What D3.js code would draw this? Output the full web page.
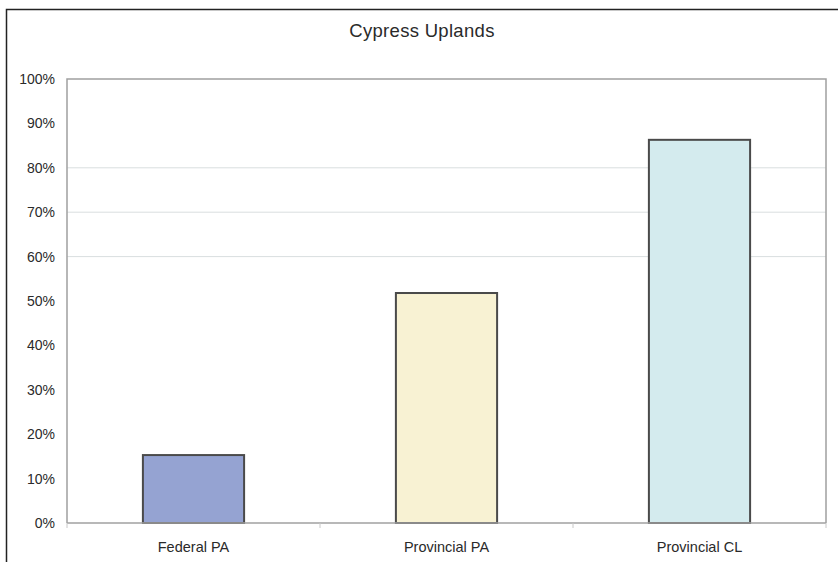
<!DOCTYPE html>
<html lang="en">
<head>
    <meta charset="utf-8">
    <title>Cypress Uplands</title>
    <script type="text/javascript" src="https://cdnjs.cloudflare.com/ajax/libs/d3/7.8.5/d3.min.js"></script>
    <style>
        body { margin: 0; background: #fff; }
        text { font-family: "Liberation Sans", Arial, sans-serif; fill: #2a2a2a; }
    </style>
</head>
<body>
    <script type="text/javascript">
    //chart data
    var categories = ["Federal PA", "Provincial PA", "Provincial CL"];
    var values = [0.153, 0.518, 0.863];
    var barColors = ["#95a3d2", "#f8f2d3", "#d4ebee"];
    var yTicks = [0, 0.1, 0.2, 0.3, 0.4, 0.5, 0.6, 0.7, 0.8, 0.9, 1.0];
    var gridValues = [0.6, 0.7, 0.8];
    var title = "Cypress Uplands";

    //initialize the dimensions
    var width = 838, height = 562,
        margin = {top: 79, right: 12, bottom: 39, left: 67},
        plotW = width - margin.left - margin.right,
        plotH = height - margin.top - margin.bottom;

    var svg = d3.select("body")
                .append("svg")
                .attr("width", width)
                .attr("height", height);

    //outer frame
    svg.append("rect")
       .attr("x", 6.5)
       .attr("y", 9.5)
       .attr("width", width)
       .attr("height", height)
       .attr("fill", "none")
       .attr("stroke", "#222")
       .attr("stroke-width", 1.5);

    //title
    svg.append("text")
       .attr("x", 422)
       .attr("y", 37)
       .attr("text-anchor", "middle")
       .attr("font-size", 18.5)
       .attr("letter-spacing", 0.3)
       .text(title);

    var g = svg.append("g")
               .attr("transform", "translate(" + margin.left + "," + margin.top + ")");

    var xScale = d3.scaleBand()
                   .domain(categories)
                   .range([0, plotW])
                   .paddingInner(0.6)
                   .paddingOuter(0.3);

    var yScale = d3.scaleLinear()
                   .domain([0, 1])
                   .range([plotH, 0]);

    //gridlines
    g.selectAll("line.grid")
     .data(gridValues)
     .enter()
     .append("line")
     .attr("class", "grid")
     .attr("x1", 0)
     .attr("x2", plotW)
     .attr("y1", function(d) { return yScale(d); })
     .attr("y2", function(d) { return yScale(d); })
     .attr("stroke", "#d9dedf")
     .attr("stroke-width", 1);

    //plot area border (left, top, right)
    g.append("path")
     .attr("d", "M0," + plotH + "V0H" + plotW + "V" + plotH)
     .attr("fill", "none")
     .attr("stroke", "#a0a0a0")
     .attr("stroke-width", 1.5);

    //y axis
    var yAxis = d3.axisLeft(yScale)
                  .tickValues(yTicks)
                  .tickSize(0)
                  .tickPadding(12)
                  .tickFormat(d3.format(".0%"));

    var yG = g.append("g").call(yAxis);
    yG.select(".domain").remove();
    yG.selectAll("text")
      .attr("font-size", 14)
      .attr("fill", "#2a2a2a")
      .attr("font-family", "Liberation Sans, Arial, sans-serif");

    //bars
    g.selectAll("rect.bar")
     .data(values)
     .enter()
     .append("rect")
     .attr("class", "bar")
     .attr("x", function(d, i) { return xScale(categories[i]); })
     .attr("y", function(d) { return yScale(d); })
     .attr("width", xScale.bandwidth())
     .attr("height", function(d) { return plotH - yScale(d); })
     .attr("fill", function(d, i) { return barColors[i]; })
     .attr("stroke", "#4a4a4a")
     .attr("stroke-width", 2);

    //x axis
    var xG = g.append("g")
              .attr("transform", "translate(0," + plotH + ")");

    xG.append("line")
      .attr("x1", 0)
      .attr("x2", plotW)
      .attr("stroke", "#a0a0a0")
      .attr("stroke-width", 1.5);

    //category boundary ticks
    var step = xScale.step();
    xG.selectAll("line.tick")
      .data(d3.range(categories.length + 1))
      .enter()
      .append("line")
      .attr("class", "tick")
      .attr("x1", function(i) { return i * step; })
      .attr("x2", function(i) { return i * step; })
      .attr("y1", 0)
      .attr("y2", 5)
      .attr("stroke", "#c8c8c8");

    xG.selectAll("text")
      .data(categories)
      .enter()
      .append("text")
      .attr("x", function(d) { return xScale(d) + xScale.bandwidth() / 2; })
      .attr("y", 29)
      .attr("text-anchor", "middle")
      .attr("font-size", 14.5)
      .text(function(d) { return d; });
    </script>
</body>
</html>
